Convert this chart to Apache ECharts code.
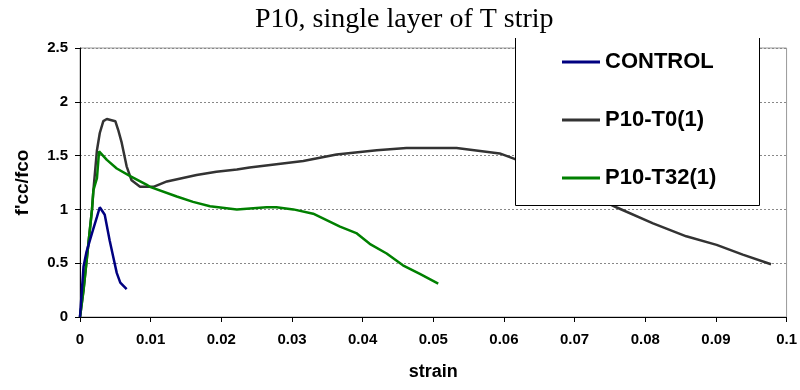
<!DOCTYPE html>
<html>
<head>
<meta charset="utf-8">
<script src="https://cdn.jsdelivr.net/npm/echarts@6/dist/echarts.min.js"></script>
<style>
html, body { margin: 0; padding: 0; background: #fff; }
#chartmain { width: 800px; height: 390px; }
</style>
</head>
<body>
<div id="chartmain"></div>
<script>
// values: [strain, f'cc/fco]
var seriesNames = ['CONTROL', 'P10-T0(1)', 'P10-T32(1)'];
var xTicks = [0, 0.01, 0.02, 0.03, 0.04, 0.05, 0.06, 0.07, 0.08, 0.09, 0.1];
var yTicks = [0, 0.5, 1, 1.5, 2, 2.5];

var control = [
    [0, 0], [0.0005, 0.47], [0.0009, 0.60], [0.0017, 0.78], [0.0024, 0.93],
    [0.0028, 1.02], [0.0035, 0.95], [0.0042, 0.71], [0.0047, 0.56],
    [0.0052, 0.41], [0.0057, 0.32], [0.0066, 0.26]
];
var p10t0 = [
    [0, 0], [0.0005, 0.25], [0.0012, 0.69], [0.0017, 1.00], [0.0019, 1.18],
    [0.0024, 1.55], [0.0028, 1.71], [0.0033, 1.82], [0.0038, 1.84],
    [0.0050, 1.82], [0.0054, 1.74], [0.0059, 1.62], [0.0066, 1.40],
    [0.0073, 1.27], [0.0085, 1.21], [0.0104, 1.21], [0.0123, 1.26],
    [0.0165, 1.32], [0.0193, 1.35], [0.0222, 1.37], [0.0240, 1.39],
    [0.0278, 1.42], [0.0316, 1.45], [0.0363, 1.51], [0.0420, 1.55],
    [0.0462, 1.57], [0.0533, 1.57], [0.0594, 1.52], [0.0615, 1.47],
    [0.0759, 1.02], [0.0811, 0.87], [0.0858, 0.75], [0.0901, 0.67],
    [0.0938, 0.58], [0.0978, 0.49]
];
var p10t32 = [
    [0, 0], [0.0005, 0.25], [0.0012, 0.69], [0.0017, 1.00], [0.0019, 1.18],
    [0.0024, 1.29], [0.0027, 1.54], [0.0038, 1.46], [0.0052, 1.38],
    [0.0071, 1.31], [0.0094, 1.23], [0.0099, 1.21], [0.0137, 1.12],
    [0.0160, 1.07], [0.0184, 1.03], [0.0222, 1.00], [0.0264, 1.02],
    [0.0278, 1.02], [0.0302, 1.00], [0.0330, 0.96], [0.0368, 0.84],
    [0.0391, 0.78], [0.0410, 0.68], [0.0434, 0.59], [0.0457, 0.48],
    [0.0481, 0.40], [0.0507, 0.31]
];
var lineColors = ['#000080', '#333333', '#008000'];

var myChart = echarts.init(document.getElementById('chartmain'));

var boldFont = { fontFamily: 'Arial, "Liberation Sans", sans-serif', fontWeight: 'bold', color: '#000' };

function makeLine(name, data, color, z) {
    return {
        name: name,
        type: 'line',
        data: data,
        symbol: 'none',
        smooth: false,
        z: z,
        lineStyle: { color: color, width: 2.5 },
        itemStyle: { color: color }
    };
}

option = {
    backgroundColor: '#fff',
    animation: false,
    title: {
        text: 'P10, single layer of T strip',
        left: 255,
        top: 6,
        padding: 0,
        textStyle: {
            fontFamily: '"Liberation Serif", "Times New Roman", serif',
            fontWeight: 'normal',
            fontSize: 28,
            color: '#000'
        }
    },
    grid: {
        left: 80, right: 13, top: 48, bottom: 73,
        show: true,
        borderColor: '#999',
        borderWidth: 1
    },
    // legend box (top edge hidden under the title area, as in the picture)
    graphic: [
        { type: 'rect', z: 10, shape: { x: 515, y: 38, width: 245, height: 168 },
          style: { fill: '#fff', stroke: null } },
        { type: 'polyline', z: 11, shape: { points: [[515.5, 38], [515.5, 205.5], [759.5, 205.5], [759.5, 38]] },
          style: { stroke: '#000', lineWidth: 1, fill: null } }
    ],
    legend: {
        data: seriesNames,
        orient: 'vertical',
        left: 562,
        top: 51,
        padding: 0,
        z: 20,
        icon: 'rect',
        itemWidth: 38,
        itemHeight: 3,
        itemGap: 36,
        textStyle: Object.assign({ fontSize: 22 }, boldFont)
    },
    xAxis: {
        type: 'value',
        min: 0,
        max: 0.1,
        interval: 0.01,
        name: 'strain',
        nameLocation: 'middle',
        nameGap: 46,
        nameTextStyle: Object.assign({ fontSize: 18 }, boldFont),
        axisLine: { lineStyle: { color: '#000', width: 1 } },
        axisTick: { show: true, inside: false, length: 5, lineStyle: { color: '#000' } },
        axisLabel: {
            margin: 15,
            fontSize: 15,
            fontFamily: boldFont.fontFamily, fontWeight: 'bold', color: '#000',
            formatter: function (v) { return String(+v.toFixed(2)); }
        },
        splitLine: { show: false }
    },
    yAxis: {
        type: 'value',
        min: yTicks[0],
        max: yTicks[yTicks.length - 1],
        interval: 0.5,
        name: "f'cc/fco",
        nameLocation: 'middle',
        nameRotate: 90,
        nameGap: 48,
        nameTextStyle: Object.assign({ fontSize: 19 }, boldFont),
        axisLine: { show: true, lineStyle: { color: '#000', width: 1 } },
        axisTick: { show: true, inside: false, length: 5, lineStyle: { color: '#000' } },
        axisLabel: {
            margin: 12,
            fontSize: 15,
            fontFamily: boldFont.fontFamily, fontWeight: 'bold', color: '#000'
        },
        splitLine: { show: true, lineStyle: { color: '#888', type: [2, 2], width: 1 } }
    },
    series: [
        makeLine(seriesNames[0], control, lineColors[0], 4),
        makeLine(seriesNames[1], p10t0, lineColors[1], 2),
        makeLine(seriesNames[2], p10t32, lineColors[2], 3)
    ]
};

myChart.setOption(option);
</script>
</body>
</html>
